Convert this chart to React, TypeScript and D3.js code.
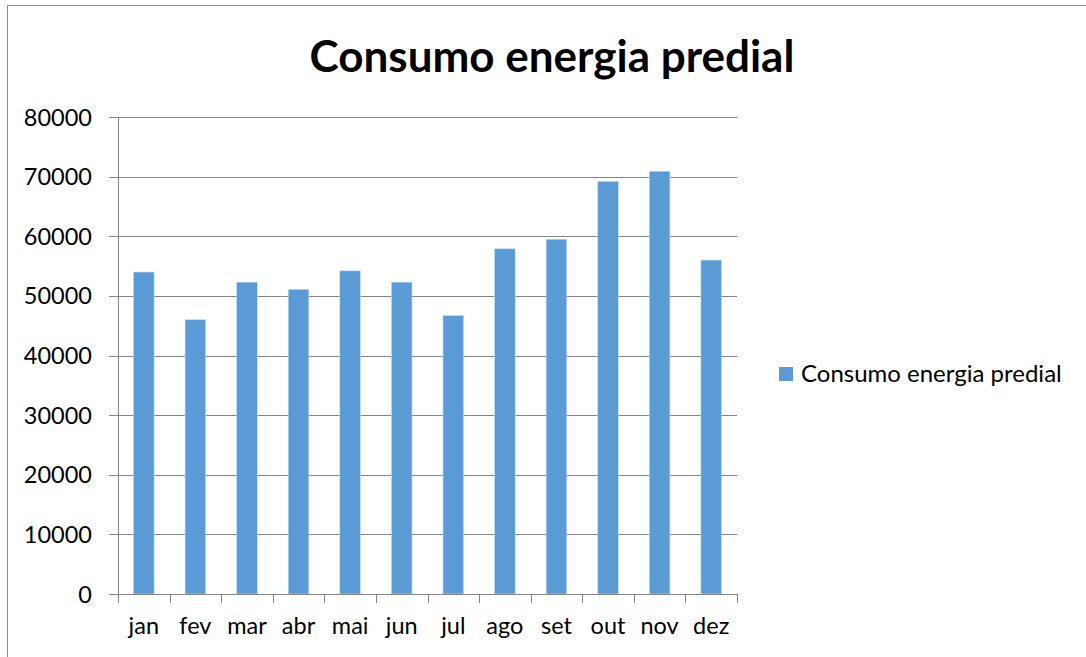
import * as d3 from 'd3';

const months = ['jan', 'fev', 'mar', 'abr', 'mai', 'jun', 'jul', 'ago', 'set', 'out', 'nov', 'dez'];
const consumo = [54000, 46000, 52300, 51100, 54200, 52300, 46700, 57900, 59500, 69200, 70900, 56000];
const yTicks = [0, 10000, 20000, 30000, 40000, 50000, 60000, 70000, 80000];
const seriesName = 'Consumo energia predial';
const title = 'Consumo energia predial';

const W = 1086;
const H = 657;
const plot = { left: 118, right: 737, top: 117, bottom: 594 };
const barColor = '#5b9bd5';
const axisColor = '#868686';
const font = 'Lato, "Open Sans", sans-serif';

export default function App() {
  const x = d3.scaleBand().domain(months).range([plot.left, plot.right]).paddingInner(0.6).paddingOuter(0.3);
  const band = d3.scaleBand().domain(months).range([plot.left, plot.right]);
  const y = d3.scaleLinear().domain([0, 80000]).range([plot.bottom, plot.top]);

  return (
    <svg width={W} height={H} style={{ position: 'absolute', left: 0, top: 0, background: '#fff' }} fontFamily={font}>
      {/* chart frame */}
      <rect x={7.5} y={5.5} width={W} height={H} fill="none" stroke="#8c8c8c" strokeWidth={1} />

      <text x={552} y={72} textAnchor="middle" fontSize={44} fontWeight="bold" fill="#000">{title}</text>

      {/* grid + y ticks */}
      {yTicks.map(t => (
        <g key={t}>
          <line x1={plot.left} x2={plot.right} y1={Math.round(y(t)) + 0.5} y2={Math.round(y(t)) + 0.5} stroke={axisColor} />
          <line x1={plot.left - 9} x2={plot.left} y1={Math.round(y(t)) + 0.5} y2={Math.round(y(t)) + 0.5} stroke={axisColor} />
          <text x={92} y={y(t) + 8.5} textAnchor="end" fontSize={23.5} fill="#000">{t}</text>
        </g>
      ))}
      <line x1={plot.left + 0.5} x2={plot.left + 0.5} y1={plot.top} y2={plot.bottom} stroke={axisColor} />

      {/* bars */}
      {months.map((m, i) => (
        <rect key={m} x={x(m)} y={y(consumo[i])} width={x.bandwidth()} height={y(0) - y(consumo[i])}
          fill={barColor} stroke="#c8dcf0" strokeWidth={0.6} />
      ))}

      {/* x axis */}
      <line x1={plot.left} x2={plot.right} y1={plot.bottom + 0.5} y2={plot.bottom + 0.5} stroke={axisColor} />
      {[...months.map(m => band(m)), plot.right].map((v, i) => (
        <line key={i} x1={Math.round(v) + 0.5} x2={Math.round(v) + 0.5} y1={plot.bottom} y2={plot.bottom + 9} stroke={axisColor} />
      ))}
      {months.map(m => (
        <text key={m} x={band(m) + band.bandwidth() / 2} y={634} textAnchor="middle" fontSize={23.5} fill="#000">{m}</text>
      ))}

      {/* legend */}
      <rect x={779} y={367} width={14} height={14} fill={barColor} />
      <text x={801} y={382} fontSize={24} fill="#000">{seriesName}</text>
    </svg>
  );
}
